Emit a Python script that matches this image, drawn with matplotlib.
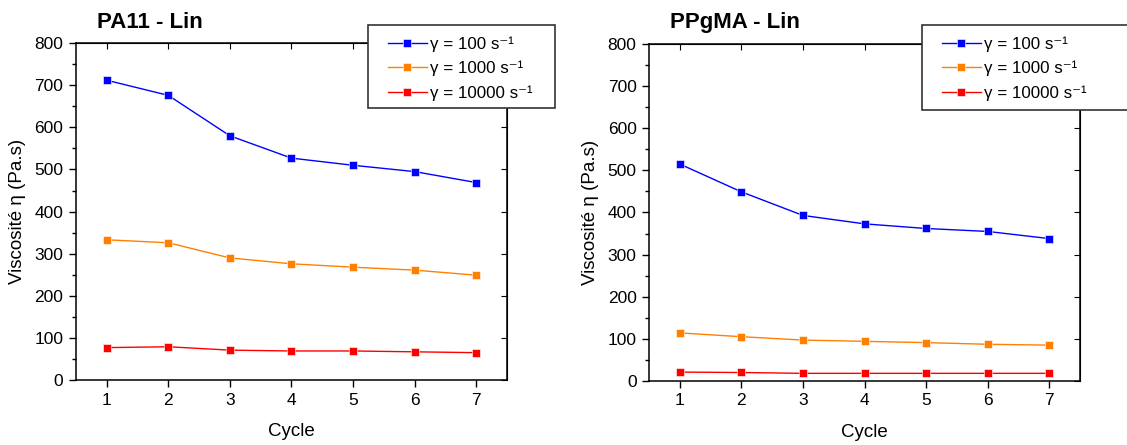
import numpy as np
import matplotlib
matplotlib.use("Agg")
import matplotlib.pyplot as plt
from matplotlib.patches import Rectangle

plt.rcParams['font.family'] = ['Liberation Sans', 'DejaVu Sans']

cycles = [1, 2, 3, 4, 5, 6, 7]
labels = ['γ = 100 s⁻¹', 'γ = 1000 s⁻¹', 'γ = 10000 s⁻¹']
colors = ['#0000ff', '#ff8000', '#ff0000']

# PA11 - Lin
pa11_100 = [712, 676, 580, 527, 510, 495, 469]
pa11_1000 = [333, 326, 290, 276, 268, 261, 249]
pa11_10000 = [77, 79, 71, 69, 69, 67, 65]

# PPgMA - Lin
ppgma_100 = [515, 449, 393, 373, 362, 355, 338]
ppgma_1000 = [114, 105, 97, 94, 91, 87, 85]
ppgma_10000 = [21, 20, 18, 18, 18, 18, 18]

W, H = 1127, 445
# title, series, axes rect, legend box (px: x0, y0, x1, y1)
panels = [
    ("PA11 - Lin", [pa11_100, pa11_1000, pa11_10000],
     [0.0674, 0.146, 0.3824, 0.757], (368, 25, 555, 108)),
    ("PPgMA - Lin", [ppgma_100, ppgma_1000, ppgma_10000],
     [0.5759, 0.144, 0.3824, 0.757], (922, 25, 1135, 110)),
]

fig = plt.figure(figsize=(11.27, 4.45), dpi=100)

for title, series, pos, box in panels:
    ax = fig.add_axes(pos)
    for vals, c, lab in zip(series, colors, labels):
        ax.plot(cycles, vals, color=c, lw=1.0, marker='s', ms=6,
                mec='white', mew=0.4, label=lab)
    ax.set_xlim(0.5, 7.5)
    ax.set_ylim(0, 800)
    ax.set_xticks(cycles)
    ax.set_yticks(np.arange(0, 801, 100))
    ax.set_yticks(np.arange(50, 800, 100), minor=True)
    ax.tick_params(axis='both', which='major', direction='out', length=5,
                   width=1, labelsize=12.5, pad=4)
    ax.tick_params(axis='y', which='minor', direction='out', length=3, width=1)
    for s in ax.spines.values():
        s.set_linewidth(1.1)
    # inward mirror ticks on top and right
    top = ax.secondary_xaxis('top')
    top.set_xticks(cycles)
    top.tick_params(direction='in', length=4, labeltop=False)
    right = ax.secondary_yaxis('right')
    right.set_yticks(np.arange(0, 801, 100))
    right.tick_params(direction='in', length=4, labelright=False)
    ax.set_xlabel('Cycle', fontsize=13.5, labelpad=11)
    ax.set_ylabel('Viscosité η (Pa.s)', fontsize=13.5, labelpad=6)
    fig.text(pos[0] + 0.019, 0.937, title, fontsize=16, fontweight='bold',
             ha='left', va='baseline')

    # legend frame drawn by hand so the padding matches
    x0, y0, x1, y1 = box
    fig.patches.append(Rectangle((x0 / W, 1 - y1 / H), (x1 - x0) / W,
                                 (y1 - y0) / H, transform=fig.transFigure,
                                 facecolor='white', edgecolor='#333333',
                                 lw=1.2, zorder=5))
    leg = fig.legend(handles=ax.get_lines(), loc='upper left',
                     bbox_to_anchor=((x0 + 20) / W, 1 - (y0 + 11) / H),
                     bbox_transform=fig.transFigure, borderaxespad=0,
                     borderpad=0, frameon=False, fontsize=12.2,
                     handlelength=2.3, handletextpad=0.2, labelspacing=0.55)
    leg.set_zorder(6)

fig.savefig('out.png', dpi=100)
